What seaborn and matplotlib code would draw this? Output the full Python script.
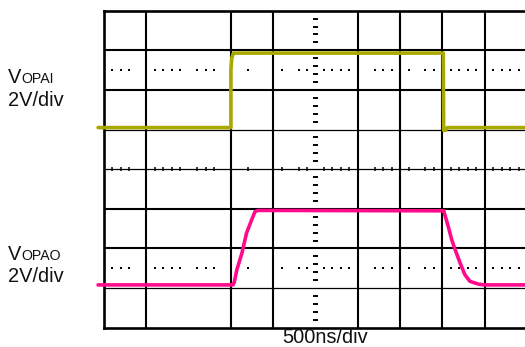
import matplotlib
matplotlib.use("Agg")
import matplotlib.pyplot as plt
import pandas as pd
import seaborn as sns

# Scope traces in screen divisions (x: 500 ns/div, y: 2 V/div, 8 divisions tall)
opai_t = [-0.14, 3.00, 3.00, 3.02, 3.06, 8.02, 8.03, 8.07, 8.12, 9.96]
opai_v = [5.05, 5.05, 6.50, 6.80, 6.93, 6.93, 4.98, 4.98, 5.05, 5.05]

opao_t = [-0.14, 3.05, 3.08, 3.14, 3.26, 3.37, 3.49, 3.57, 3.64, 8.03,
          8.14, 8.22, 8.30, 8.42, 8.53, 8.65, 8.85, 9.00, 9.96]
opao_v = [1.08, 1.08, 1.15, 1.46, 1.88, 2.39, 2.72, 2.93, 2.96, 2.95,
          2.55, 2.22, 1.97, 1.63, 1.34, 1.17, 1.10, 1.08, 1.08]

ch_labels = ["V", "OPAI", "V", "OPAO"]
scale_label = "2V/div"
time_label = "500ns/div"

YELLOW = "#A8A800"
PINK = "#FF0A8A"

sns.set_style("white")
plt.rcParams["font.family"] = ["Liberation Sans", "DejaVu Sans"]

W, H = 525, 347
fig = plt.figure(figsize=(W / 100, H / 100), dpi=100)
left_px, right_px, top_px, bot_px = 104, 525, 10.7, 327.7
ax = fig.add_axes([left_px / W, 1 - bot_px / H,
                   (right_px - left_px) / W, (bot_px - top_px) / H])
div_px = 42.3
ax.set_xlim(0, (right_px - left_px) / div_px)
ax.set_ylim(0, 8)
ax.set_xticks([])
ax.set_yticks([])
for s in ["left", "top", "bottom"]:
    ax.spines[s].set_linewidth(1.9)
    ax.spines[s].set_color("black")
ax.spines["right"].set_visible(False)

# graticule
for y in [2, 3, 6, 7]:
    ax.axhline(y, color="black", lw=1.5, zorder=1)
for y in [1, 4, 5]:
    ax.axhline(y, color="black", lw=0.9, zorder=1)
for x in [1, 3, 4, 6, 7, 8, 9]:
    ax.axvline(x, color="black", lw=1.5, zorder=1)

minor_x = [0.2, 0.4, 0.6, 1.2, 1.4, 1.6, 1.8, 2.2, 2.4, 2.6, 3.4, 4.2, 4.6,
           4.8, 5.2, 5.4, 5.6, 5.8, 6.4, 6.6, 6.8, 7.2, 7.6, 7.8, 8.2, 8.4,
           8.6, 8.8, 9.2, 9.4, 9.6, 9.8]
minor_y = [k / 5 for k in range(1, 40) if k % 5 != 0]

# center row ticks and dotted rows
ax.vlines(minor_x, 4 - 0.055, 4 + 0.055, color="black", lw=1.1, zorder=1)
for y in [1.5, 6.5]:
    ax.plot(minor_x, [y] * len(minor_x), "s", color="black", ms=1.6,
            mew=0, zorder=1)
# center column ticks
ax.hlines(minor_y, 5 - 0.05, 5 + 0.05, color="black", lw=1.4, zorder=1)

df_i = pd.DataFrame({"t": opai_t, "v": opai_v})
df_o = pd.DataFrame({"t": opao_t, "v": opao_v})
sns.lineplot(data=df_i, x="t", y="v", sort=False, estimator=None,
             color=YELLOW, lw=2.6, ax=ax, zorder=3, clip_on=False)
sns.lineplot(data=df_o, x="t", y="v", sort=False, estimator=None,
             color=PINK, lw=2.6, ax=ax, zorder=3, clip_on=False)
ax.set_xlabel("")
ax.set_ylabel("")


def ftext(x, y, s, size):
    fig.text(x / W, 1 - y / H, s, fontsize=size, va="baseline",
             ha="left", color="#111111")


ftext(8.3, 83, ch_labels[0], 14.4)
ftext(21, 83, ch_labels[1], 10.2)
ftext(8.3, 106, scale_label, 14.4)
ftext(8.3, 260, ch_labels[2], 14.4)
ftext(21, 260, ch_labels[3], 10.2)
ftext(8.3, 282, scale_label, 14.4)
fig.text(325 / W, 1 - 343 / H, time_label, fontsize=14.4, va="baseline",
         ha="center", color="#111111")

fig.savefig("out.png", dpi=100)
